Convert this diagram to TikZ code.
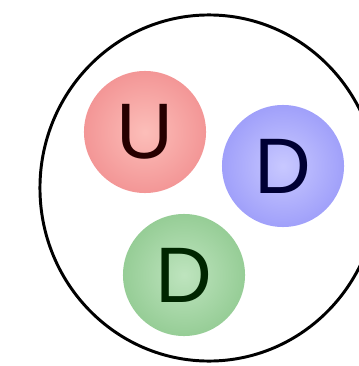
\documentclass[tikz,border=0pt]{standalone}
\usepackage{fontspec}
\setmainfont{Liberation Sans}
\usepackage{xcolor}
\usetikzlibrary{shapes.geometric, positioning}
\definecolor{upred}{RGB}{243, 150, 150}
\definecolor{upredlight}{RGB}{252, 190, 185}
\definecolor{downblue}{RGB}{160, 160, 250}
\definecolor{downbluelight}{RGB}{200, 200, 255}
\definecolor{downgreen}{RGB}{150, 205, 150}
\definecolor{downgreenlight}{RGB}{190, 228, 190}

\begin{document}
\begin{tikzpicture}[x=0.025cm, y=-0.025cm,
    quark/.style={circle, inner sep=0pt, minimum size=3.05cm,
                  font=\fontsize{56}{56}\selectfont, shading=radial},
    hadron/.style={ellipse, draw=black, line width=2.1pt, inner sep=0pt,
                   minimum width=8.45cm, minimum height=8.65cm}
]
    \useasboundingbox (0,0) rectangle (359,366);
    \node[hadron] (proton) at (209,188) {};
    \node[quark, inner color=upredlight, outer color=upred, text=black!85!red] (up) at (145,132) {U};
    \node[quark, inner color=downbluelight, outer color=downblue, text=black!80!blue] (downa) at (283,166) {D};
    \node[quark, inner color=downgreenlight, outer color=downgreen, text=black!85!green] (downb) at (184,275) {D};
\end{tikzpicture}
\end{document}
